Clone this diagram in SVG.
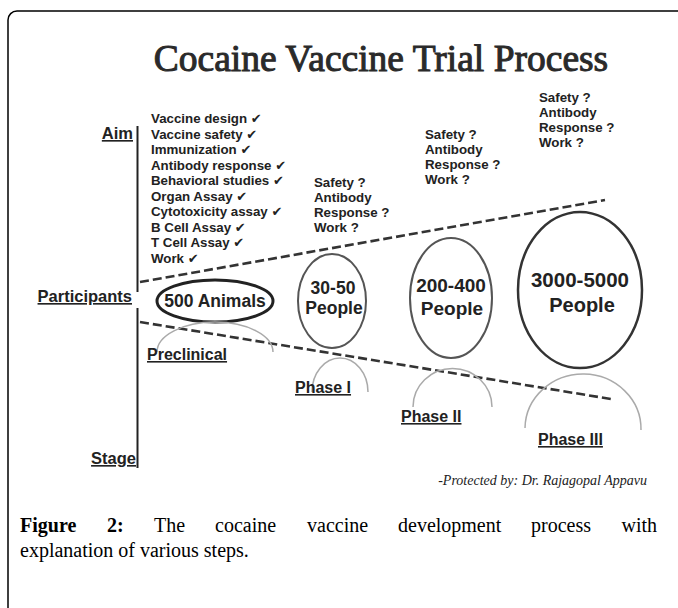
<svg xmlns="http://www.w3.org/2000/svg" width="678" height="608" viewBox="0 0 678 608">
<style>
.lbl{font-family:"Liberation Sans",Arial,sans-serif;font-weight:bold;fill:#222}
.ax{font-size:16.5px;text-decoration:underline}
.st{font-size:16px;text-decoration:underline}
.q{font-size:13.3px}
.ck{font-family:"DejaVu Sans",sans-serif;font-weight:normal;font-size:13px;font-style:italic}
.ell{fill:none;stroke:#555;stroke-width:2}
.arc{fill:none;stroke:#aaa;stroke-width:1.5}
.dash{fill:none;stroke:#333;stroke-width:2.6;stroke-dasharray:9 4}
.cap{font-family:"Liberation Serif","Times New Roman",serif;font-size:20px;fill:#000}
</style>
<rect width="678" height="608" fill="#fff"/>
<path d="M8 608 V20 A9 9 0 0 1 17 11 H678" fill="none" stroke="#000" stroke-width="1.5"/>
<text x="381" y="71" text-anchor="middle" font-family="Liberation Serif,serif" font-size="37.5" fill="#2a2a2a" stroke="#2a2a2a" stroke-width="1">Cocaine Vaccine Trial Process</text>

<g id="axis">
<line x1="137.5" y1="126" x2="137.5" y2="292" stroke="#222" stroke-width="2"/>
<line x1="137.5" y1="308" x2="137.5" y2="468" stroke="#222" stroke-width="2"/>
<text class="lbl ax" x="133" y="139" text-anchor="end">Aim</text>
<text class="lbl ax" x="132" y="302" text-anchor="end">Participants</text>
<text class="lbl ax" x="136" y="464" text-anchor="end">Stage</text>
</g>

<g id="aims-preclinical" class="lbl q">
<text x="151" y="123">Vaccine design <tspan class="ck">✔</tspan></text>
<text x="151" y="138.5">Vaccine safety <tspan class="ck">✔</tspan></text>
<text x="151" y="154">Immunization <tspan class="ck">✔</tspan></text>
<text x="151" y="169.5">Antibody response <tspan class="ck">✔</tspan></text>
<text x="151" y="185">Behavioral studies <tspan class="ck">✔</tspan></text>
<text x="151" y="200.5">Organ Assay <tspan class="ck">✔</tspan></text>
<text x="151" y="216">Cytotoxicity assay <tspan class="ck">✔</tspan></text>
<text x="151" y="231.5">B Cell Assay <tspan class="ck">✔</tspan></text>
<text x="151" y="247">T Cell Assay <tspan class="ck">✔</tspan></text>
<text x="151" y="262.5">Work <tspan class="ck">✔</tspan></text>
</g>

<g id="aims-phase1" class="lbl q">
<text x="314" y="187">Safety ?</text>
<text x="314" y="202">Antibody</text>
<text x="314" y="217">Response ?</text>
<text x="314" y="232">Work ?</text>
</g>
<g id="aims-phase2" class="lbl q">
<text x="425" y="139">Safety ?</text>
<text x="425" y="154">Antibody</text>
<text x="425" y="169">Response ?</text>
<text x="425" y="184">Work ?</text>
</g>
<g id="aims-phase3" class="lbl q">
<text x="539" y="102">Safety ?</text>
<text x="539" y="117">Antibody</text>
<text x="539" y="132">Response ?</text>
<text x="539" y="147">Work ?</text>
</g>

<g id="connectors">
<line class="dash" x1="140" y1="282" x2="605" y2="200"/>
<line class="dash" x1="140" y1="322" x2="611" y2="399"/>
</g>

<g id="preclinical">
<ellipse cx="215" cy="301" rx="58" ry="21" fill="none" stroke="#222" stroke-width="3"/>
<text class="lbl" x="215" y="307" text-anchor="middle" font-size="17.5">500 Animals</text>
<path class="arc" d="M157 352 A58 30 0 0 1 273 352"/>
<text class="lbl st" x="147" y="360">Preclinical</text>
</g>

<g id="phase1">
<ellipse class="ell" cx="332" cy="301" rx="34" ry="47"/>
<text class="lbl" x="333" y="294" text-anchor="middle" font-size="17.5">30-50</text>
<text class="lbl" x="334" y="314" text-anchor="middle" font-size="17.5">People</text>
<path class="arc" d="M312 392 A28 34 0 0 1 368 392"/>
<text class="lbl st" x="295" y="393">Phase I</text>
</g>

<g id="phase2">
<ellipse class="ell" cx="451" cy="298" rx="41" ry="60"/>
<text class="lbl" x="451" y="292" text-anchor="middle" font-size="19">200-400</text>
<text class="lbl" x="452" y="315" text-anchor="middle" font-size="19">People</text>
<path class="arc" d="M413 407 A39 38 0 0 1 492 407"/>
<text class="lbl st" x="401" y="422">Phase II</text>
</g>

<g id="phase3">
<ellipse cx="580" cy="290" rx="62" ry="78" fill="none" stroke="#333" stroke-width="2.5"/>
<text class="lbl" x="580" y="287" text-anchor="middle" font-size="20.5">3000-5000</text>
<text class="lbl" x="582" y="312" text-anchor="middle" font-size="20">People</text>
<path class="arc" d="M525 428 A58 55 0 0 1 641 430"/>
<text class="lbl st" x="538" y="445">Phase III</text>
</g>

<text x="647" y="485" text-anchor="end" font-family="Liberation Serif,serif" font-style="italic" font-size="14" fill="#222">-Protected by: Dr. Rajagopal Appavu</text>

<g id="caption" class="cap">
<text y="532"><tspan x="20" font-weight="bold">Figure</tspan><tspan x="107" font-weight="bold">2:</tspan><tspan x="154">The</tspan><tspan x="215">cocaine</tspan><tspan x="307">vaccine</tspan><tspan x="398">development</tspan><tspan x="531">process</tspan><tspan x="657" text-anchor="end">with</tspan></text>
<text x="20" y="557">explanation of various steps.</text>
</g>
</svg>
